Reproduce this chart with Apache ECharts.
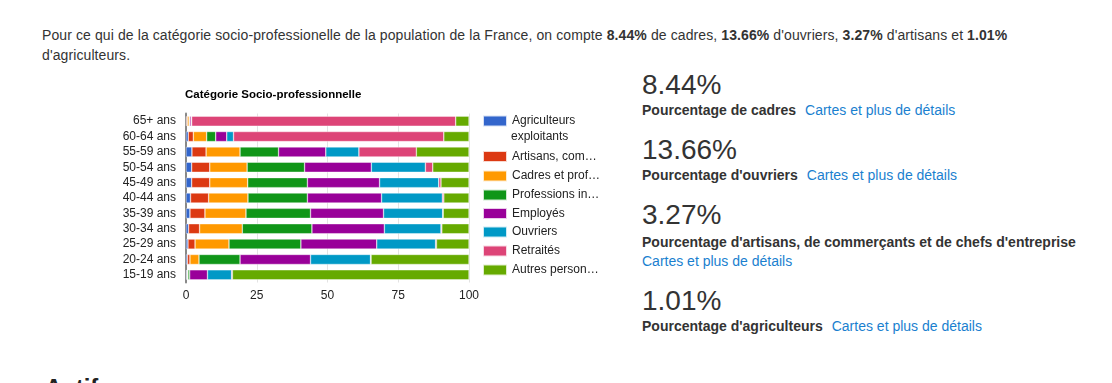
<!DOCTYPE html>
<html>
<head>
<meta charset="utf-8">
<script src="https://cdn.jsdelivr.net/npm/echarts@6/dist/echarts.min.js"></script>
<style>
  html, body { margin:0; padding:0; background:#fff; width:1112px; height:383px; overflow:hidden; }
  body { position:relative; font-family:"Liberation Sans", Arial, Helvetica, sans-serif; color:#333; }
  .abs { position:absolute; white-space:nowrap; }
  .para { left:42px; top:25px; font-size:14px; line-height:20px; color:#333; letter-spacing:0.1px; }
  .big { font-size:28px; line-height:32px; color:#333; left:642px; }
  .lbl { font-size:14px; line-height:16px; font-weight:bold; color:#333; left:642px; }
  .lnk { color:#1a7fcf; font-weight:normal; margin-left:9px; }
  .lnk2 { font-size:14px; line-height:16px; color:#1a7fcf; left:642px; }
  #chart { position:absolute; left:0; top:0; width:640px; height:383px; }
  .actifs { left:45px; top:373px; font-size:24px; line-height:30px; font-weight:bold; color:#222; }
</style>
</head>
<body>
<div class="abs para">Pour ce qui de la catégorie socio-professionelle de la population de la France, on compte <b>8.44%</b> de cadres, <b>13.66%</b> d'ouvriers, <b>3.27%</b> d'artisans et <b>1.01%</b><br>d'agriculteurs.</div>

<div class="abs big" style="top:69px">8.44%</div>
<div class="abs lbl" style="top:102px">Pourcentage de cadres<span class="lnk">Cartes et plus de détails</span></div>

<div class="abs big" style="top:134px">13.66%</div>
<div class="abs lbl" style="top:167px">Pourcentage d'ouvriers<span class="lnk">Cartes et plus de détails</span></div>

<div class="abs big" style="top:199px">3.27%</div>
<div class="abs lbl" style="top:234px">Pourcentage d'artisans, de commerçants et de chefs d'entreprise</div>
<div class="abs lnk2" style="top:253px">Cartes et plus de détails</div>

<div class="abs big" style="top:285px">1.01%</div>
<div class="abs lbl" style="top:318px">Pourcentage d'agriculteurs<span class="lnk">Cartes et plus de détails</span></div>

<div class="abs actifs">Actifs</div>

<div id="chart"></div>
<script>
const categories = ['65+ ans','60-64 ans','55-59 ans','50-54 ans','45-49 ans','40-44 ans','35-39 ans','30-34 ans','25-29 ans','20-24 ans','15-19 ans'];
const seriesNames = [
  'Agriculteurs exploitants',
  "Artisans, commerçants et chefs d'entreprise",
  'Cadres et professions intellectuelles supérieures',
  'Professions intermédiaires',
  'Employés',
  'Ouvriers',
  'Retraités',
  'Autres personnes sans activité professionnelle'
];
const legendLabels = ['Agriculteurs', 'Artisans, com…', 'Cadres et prof…', 'Professions in…', 'Employés', 'Ouvriers', 'Retraités', 'Autres person…'];
const agriculteurs = [0.2, 0.8, 2.1, 2.0, 2.0, 1.6, 1.4, 0.9, 0.7, 0.5, 0.3];
const artisans     = [0.3, 1.8, 5.0, 6.4, 6.4, 6.4, 5.3, 3.9, 2.5, 0.9, 0.2];
const cadres       = [0.6, 4.7, 12.0, 13.2, 13.4, 13.9, 14.5, 15.1, 12.0, 3.2, 0.2];
const professions  = [0.2, 3.2, 13.6, 20.3, 21.1, 21.0, 22.8, 24.6, 25.4, 14.5, 0.6];
const employes     = [0.5, 3.9, 16.7, 23.6, 25.5, 26.2, 25.8, 25.6, 26.8, 24.9, 6.3];
const ouvriers     = [0.2, 2.4, 11.7, 19.1, 20.9, 21.5, 20.9, 20.0, 20.8, 21.2, 8.5];
const retraites    = [93.3, 74.3, 20.3, 2.6, 0.8, 0.5, 0.2, 0.3, 0.3, 0.2, 0.3];
const autres       = [4.7, 8.9, 18.6, 12.8, 9.9, 8.9, 9.1, 9.6, 11.5, 34.6, 83.6];
const xTicks = { min: 0, max: 100, interval: 25 };

const allData = [agriculteurs, artisans, cadres, professions, employes, ouvriers, retraites, autres];
const colors = ['#3366cc','#dc3912','#ff9900','#109618','#990099','#0099c6','#dd4477','#66aa00'];
const legendCenters = [120, 155.5, 175, 194, 212.5, 231, 250, 269];
const FONT = '"Liberation Sans", Arial, Helvetica, sans-serif';

const legends = seriesNames.map((name, i) => ({
  data: [name],
  left: 482,
  top: legendCenters[i] - 5.5,
  orient: 'vertical',
  itemWidth: 24,
  itemHeight: 11,
  itemGap: 0,
  padding: 0,
  selectedMode: false,
  icon: 'rect',
  formatter: () => legendLabels[i],
  textStyle: { fontFamily: FONT, fontSize: 12, color: '#222' }
}));

const chart = echarts.init(document.getElementById('chart'), null, { renderer: 'canvas' });
chart.setOption({
  animation: false,
  color: colors,
  title: {
    text: 'Catégorie Socio-professionnelle',
    left: 185, top: 89,
    padding: 0,
    textStyle: { fontFamily: FONT, fontSize: 11.5, fontWeight: 'bold', color: '#000' }
  },
  legend: legends,
  graphic: [{
    type: 'text',
    left: 511, top: 131,
    silent: true,
    style: { text: 'exploitants', fontFamily: FONT, fontSize: 12, fill: '#222' }
  }],
  grid: { left: 186, top: 113.5, width: 283, height: 169, containLabel: false },
  xAxis: {
    type: 'value',
    min: xTicks.min, max: xTicks.max, interval: xTicks.interval,
    axisLine: { show: false },
    axisTick: { show: false },
    splitLine: { show: true, lineStyle: { color: '#e3e3e3', width: 1 } },
    axisLabel: { fontFamily: FONT, fontSize: 12, color: '#222', margin: 7 }
  },
  yAxis: {
    type: 'category',
    data: categories,
    inverse: true,
    axisLine: { show: true, lineStyle: { color: '#888', width: 2 } },
    axisTick: { show: false },
    axisLabel: { interval: 0, fontFamily: FONT, fontSize: 12, color: '#222', margin: 10 }
  },
  series: seriesNames.map((name, i) => ({
    name: name,
    type: 'bar',
    stack: 'total',
    barWidth: 10,
    data: allData[i],
    itemStyle: { color: colors[i], borderColor: 'rgba(255,255,255,0.8)', borderWidth: 0.5 }
  }))
});
</script>
</body>
</html>
